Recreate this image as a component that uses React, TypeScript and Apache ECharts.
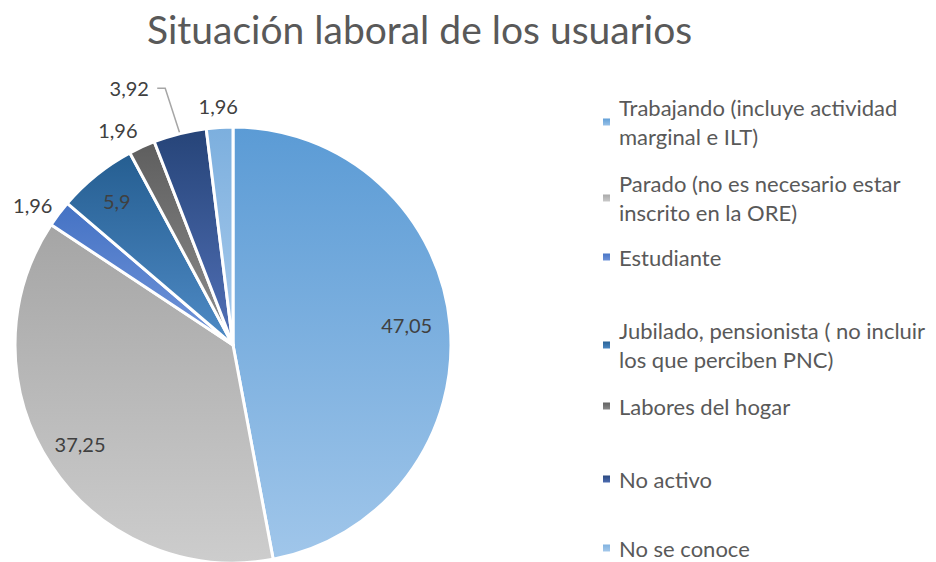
import React, { useEffect, useRef } from "react";
import * as echarts from "echarts";

const titleText = "Situación laboral de los usuarios";
const categories = [
  "Trabajando (incluye actividad marginal e ILT)",
  "Parado (no es necesario estar inscrito en la ORE)",
  "Estudiante",
  "Jubilado, pensionista ( no incluir los que perciben PNC)",
  "Labores del hogar",
  "No activo",
  "No se conoce",
];
const legendLabels = [
  "Trabajando (incluye actividad\nmarginal e ILT)",
  "Parado (no es necesario estar\ninscrito en la ORE)",
  "Estudiante",
  "Jubilado, pensionista ( no incluir\nlos que perciben PNC)",
  "Labores del hogar",
  "No activo",
  "No se conoce",
];
const values = [47.05, 37.25, 1.96, 5.9, 1.96, 3.92, 1.96];

// styles
const topColors = ["#5b9bd5", "#a5a5a5", "#4472c4", "#255e91", "#5e5e5e", "#264478", "#7cafde"];
const bottomColors = ["#a0c6ea", "#cdcdcd", "#7396da", "#4f8bc6", "#8e8e8e", "#5271b8", "#a9cbec"];
const labelRadial = [0.8, 0.82, 1.11, 0.85, 1.11, 1.2, 1.1];
const labelShift = [[0, -4], [-4, 0], [-7, 6], [0, 0], [-14, 5], [-40, -3], [0, 0]];
const legendFirstLineY = [109, 185, 257, 332, 406, 479, 547];

const CX = 233;
const CY = 345;
const R = 218;
const FONT = "Lato, 'Open Sans', sans-serif";
const LH = 29;

export default function App() {
  const ref = useRef<HTMLDivElement>(null);
  useEffect(() => {
    if (!ref.current) return;
    const chart = echarts.init(ref.current, undefined, { renderer: "svg" });
    const total = values.reduce((a, b) => a + b, 0);
    const mids: number[] = [];
    let acc = 0;
    values.forEach((v) => {
      mids.push(((acc + v / 2) / total) * Math.PI * 2);
      acc += v;
    });
    const grad = (i: number) =>
      new echarts.graphic.LinearGradient(0, 0, 0, 1, [
        { offset: 0, color: topColors[i] },
        { offset: 1, color: bottomColors[i] },
      ]);
    const data = categories.map((name, i) => ({
      name,
      value: values[i],
      itemStyle: { color: grad(i) },
      labelLine: { show: i === 5 },
    }));
    const legends = categories.map((name, i) => {
      const twoLines = legendLabels[i].includes("\n");
      const last = i === categories.length - 1;
      const lh = last ? 20 : LH;
      return {
        data: [name],
        orient: "vertical",
        left: 601,
        top: twoLines ? legendFirstLineY[i] - LH * 1.5 + 13 : legendFirstLineY[i] - lh / 2,
        padding: 0,
        icon: "rect",
        itemWidth: 9,
        itemHeight: 9,
        selectedMode: false,
        formatter: () => legendLabels[i],
        textStyle: {
          fontFamily: FONT,
          fontSize: 22,
          color: "#595959",
          lineHeight: lh,
          padding: twoLines ? [LH, 0, 0, 3] : [0, 0, 0, 3],
        },
      };
    });
    chart.setOption({
      animation: false,
      backgroundColor: "#ffffff",
      title: {
        text: titleText,
        left: 142,
        top: 4,
        textStyle: { fontFamily: FONT, fontSize: 39, fontWeight: "normal", color: "#595959" },
      },
      legend: legends,
      series: [
        {
          type: "pie",
          center: [CX, CY],
          radius: R,
          startAngle: 90,
          clockwise: true,
          avoidLabelOverlap: false,
          itemStyle: { borderColor: "#ffffff", borderWidth: 3 },
          label: {
            show: true,
            position: "outside",
            fontFamily: FONT,
            fontSize: 20,
            color: "#404040",
            formatter: (p: any) => String(p.value).replace(".", ","),
          },
          labelLine: {
            show: false,
            lineStyle: { color: "#a6a6a6", width: 1.5 },
            length: 10,
            length2: 10,
          },
          labelLayout: (p: any) => {
            const i = p.dataIndex;
            const a = mids[i];
            const dx = Math.sin(a);
            const dy = -Math.cos(a);
            const x = CX + dx * R * labelRadial[i] + labelShift[i][0];
            const y = CY + dy * R * labelRadial[i] + labelShift[i][1];
            const out: any = { x, y, align: "center", verticalAlign: "middle" };
            if (i === 5) {
              out.labelLinePoints = [
                [CX + dx * R, CY + dy * R],
                [x + 36, y],
                [x + 28, y],
              ];
            }
            return out;
          },
          data,
        },
      ],
    });
    return () => chart.dispose();
  }, []);
  return (
    <div
      ref={ref}
      style={{ position: "absolute", left: 0, top: 0, width: 936, height: 562 }}
    />
  );
}
